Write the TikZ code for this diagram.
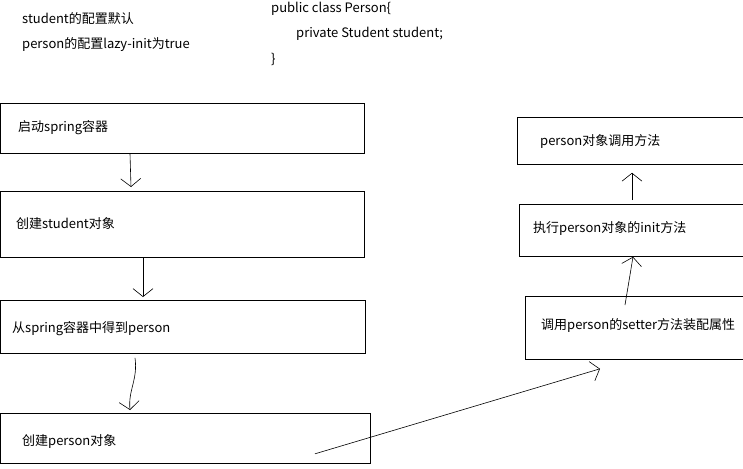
\documentclass[tikz,border=0pt]{standalone}
\usepackage{fontspec}
\setmainfont{Noto Sans CJK SC}
\usetikzlibrary{arrows.meta,calc}
\begin{document}
\begin{tikzpicture}[x=1pt,y=-1pt]
    % styles
    \tikzset{
      box/.style={draw,line width=0.8pt,anchor=north west,inner sep=0pt},
      txt/.style={anchor=west,font=\fontsize{13}{15}\selectfont,inner sep=0pt},
      hand/.style={-{Straight Barb[length=8pt,width=20pt]},line width=0.6pt}
    }
    \useasboundingbox (0,0) rectangle (743,468);

    % notes
    \node[txt] (n1) at (22,19) {student的配置默认};
    \node[txt] (n2) at (22,45) {person的配置lazy-init为true};
    \node[txt] (c1) at (271,9) {public class Person\{};
    \node[txt] (c2) at (296,34) {private Student student;};
    \node[txt] (c3) at (271,59) {\}};

    % left chain
    \node[box,minimum width=364pt,minimum height=50pt] (b1) at (0,103) {};
    \node[txt] at (18,128) {启动spring容器};
    \node[box,minimum width=364pt,minimum height=66pt] (b2) at (0,191) {};
    \node[txt] at (16,224) {创建student对象};
    \node[box,minimum width=365pt,minimum height=53pt] (b3) at (0,300) {};
    \node[txt] at (12,329) {从spring容器中得到person};
    \node[box,minimum width=370pt,minimum height=50pt] (b4) at (0,413) {};
    \node[txt] at (22,441) {创建person对象};

    % right chain
    \node[box,minimum width=226pt,minimum height=47pt] (r1) at (517,117) {};
    \node[txt] at (540,141) {person对象调用方法};
    \node[box,minimum width=224pt,minimum height=52pt] (r2) at (519,204) {};
    \node[txt] at (533,228) {执行person对象的init方法};
    \node[box,minimum width=218pt,minimum height=63pt] (r3) at (525,296) {};
    \node[txt] at (541,325) {调用person的setter方法装配属性};

    % arrows
    \draw[hand] ($(b1.south west)+(130,0)$) -- ($(b2.north west)+(131,-4)$);
    \draw[hand] ($(b2.south west)+(143,0)$) -- ($(b3.north west)+(143,-3)$);
    \draw[hand] ($(b3.south west)+(135,4)$) .. controls (138,380) and (128,390) .. ($(b4.north west)+(130,-3)$);
    \draw[hand] ($(b4.south west)+(315,-10)$) -- ($(r3.south west)+(75,9)$);
    \draw[hand] ($(r3.north west)+(100,9)$) -- ($(r2.south west)+(114,0)$);
    \draw[hand] ($(r2.north west)+(113,-4)$) -- ($(r1.south west)+(115,8)$);
\end{tikzpicture}
\end{document}
